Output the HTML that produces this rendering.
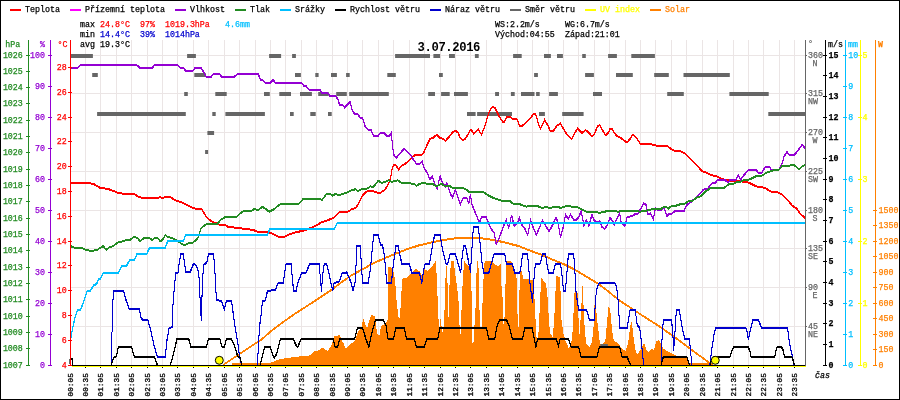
<!DOCTYPE html><html><head><meta charset="utf-8"><title>graf</title><style>
html,body{margin:0;padding:0;background:#fff;}svg{display:block}
text{font-family:"Liberation Mono",monospace;font-size:8.3px;}
.b{font-weight:bold}
</style></head><body>
<svg width="900" height="400" viewBox="0 0 900 400">
<defs><filter id="nf" x="0" y="0" width="900" height="400" filterUnits="userSpaceOnUse"><feOffset dx="0" dy="0"/></filter></defs>
<rect x="0" y="0" width="900" height="400" fill="#fff"/>
<path d="M85.50 40V365M100.50 40V365M116.50 40V365M131.50 40V365M147.50 40V365M162.50 40V365M177.50 40V365M193.50 40V365M208.50 40V365M224.50 40V365M239.50 40V365M255.50 40V365M270.50 40V365M285.50 40V365M301.50 40V365M316.50 40V365M332.50 40V365M347.50 40V365M362.50 40V365M378.50 40V365M393.50 40V365M409.50 40V365M424.50 40V365M440.50 40V365M455.50 40V365M470.50 40V365M486.50 40V365M501.50 40V365M517.50 40V365M532.50 40V365M548.50 40V365M563.50 40V365M578.50 40V365M594.50 40V365M609.50 40V365M625.50 40V365M640.50 40V365M655.50 40V365M671.50 40V365M686.50 40V365M702.50 40V365M717.50 40V365M733.50 40V365M748.50 40V365M763.50 40V365M779.50 40V365M794.50 40V365M70 55.50H805M70 93.50H805M70 132.50H805M70 171.50H805M70 210.50H805M70 248.50H805M70 287.50H805M70 326.50H805" stroke="#ebe5e5" stroke-width="1" fill="none" shape-rendering="crispEdges"/>
<polygon points="232,365 232,363.4 268,363.4 272,362.3 276,360.5 280,359.2 288.25,357.8 299.5,356.5 309.6,355.4 315.25,350.9 319.75,350.2 322.45,347.5 327.6,350.9 331,346.4 334.4,336.25 340,335.1 341.1,339.6 343.4,343 345.6,348.6 349,345.25 354.6,341.2 358,331.75 361.4,327.25 363.2,318.7 367,328.4 369.25,320.5 371.5,314.9 374.9,316 377.1,334 379.4,336.25 381,326.1 385,323.9 387.25,320.5 388,320 388,267 392.6,267.8 395.1,279.5 396.7,303 398.7,318.4 399.8,318.4 400.9,303 402.1,278.7 406.8,277.85 411,273.7 416,268.6 420.2,272 421.85,276.2 423.9,268.6 427.7,271.2 431.9,267 435.6,261.1 436.6,274.5 437.8,303 438.85,326.8 439.95,326.8 440.6,318 442.25,331.8 443.35,331.8 444.9,303 445.6,274.5 446.1,261.1 447.3,274.5 448,303 447.75,316.7 448.85,316.7 448.7,303 450,274.5 451.15,261.1 453.7,261.1 455,272.8 457,286.2 458.7,303 459.85,333.5 460.95,333.5 461.7,303 462.9,277.85 464.2,261.1 467.1,264.5 469.6,267.8 471.2,274.5 471.75,303 472.35,342.7 473.45,342.7 475.8,303 476.8,261.1 478.4,261.1 479.1,303 480.45,326.8 481.55,326.8 482.5,303 483.5,279.5 484.6,261.1 491.3,261.1 495.5,264.5 498,267 500.9,263.6 501.4,284.5 503,303 503.05,324.3 504.15,324.3 505.2,303 505.9,261.1 510.6,261.1 512.25,263.6 514.8,269.5 516.4,274.5 517.3,303 517.75,326.8 518.85,326.8 519,303 520.3,270.3 522,272 523.3,279.5 528.4,278.7 530,280.4 533.4,279.5 534.2,292 535.4,316.7 536.7,340.2 538.1,340.2 539.25,316.7 540.1,303 540.6,289.6 541.3,277.85 543.4,280.4 545.95,283.7 547.1,292.9 548.1,303 548.8,320.1 550.1,333.5 552.6,336.8 554.3,320.1 554.8,303 555.5,291.25 556.5,276.2 559.85,277 560.5,291.25 561,303 561.5,320.1 563.5,333.5 565.2,340.2 568.55,347.7 571.1,345.2 572.7,330.1 573.9,305 574.6,291.25 576.1,292.1 577.8,292.9 577.8,305 578.9,325.1 579.05,333.5 580.15,333.5 580.6,316.7 581.5,303 582.3,286.2 582.8,286.2 583.4,303 584.5,325.1 586.1,343.5 589.5,346.9 592,341.9 593.7,325.1 594.6,303 595.3,292.1 596,303 596.7,316.7 598.35,330.1 600,343.9 602.9,344.4 605.4,340.2 607.1,321.8 608.7,305 610.4,311.7 612.1,330.1 613.75,341 616.3,341.9 618.8,344.4 622.1,348.6 625.5,351.1 628,343.5 630.5,325.1 631.8,320.9 633,333.5 635.5,350.2 637.2,354.4 639.7,351.1 641.4,348.6 643.9,342.7 645.2,345.2 646.4,350.2 648.9,351.9 651.4,348.6 653.9,350.2 656.45,341 659,340.2 661.3,345.2 663.35,348.55 666.7,351.1 671.7,353.6 676.7,355.6 686.8,357.8 689.3,363.3 710.2,363.3 710.2,365 232,365" fill="#ff8000" shape-rendering="crispEdges"/>
<rect x="600.4" y="344" width="7.5" height="4" fill="#666"/>
<polyline points="223.1,364.5 236,355.8 250,346.55 261.25,339.1 272.5,329.45 283.75,321.1 295,313.25 306.25,306.05 317.5,298.6 328.75,291.2 340,282.8 351.25,274.9 362.5,268.8 373.75,262.5 385,257.55 396.25,253.05 407.5,248.55 418.75,244.95 430,242.25 441.25,240 451.25,238.2 462.5,237.3 471.5,237.1 485,238.2 496.25,240 507.5,242.7 518.75,245.6 530,250.1 541.25,254.2 552.5,259.1 563.75,263.6 575,269.25 586.25,276 597.5,282.75 606.5,289.5 618.8,299.5 640,313.5 660,326.3 680,340.5 700,355.5 710.2,363.1 713,364.5" fill="none" stroke="#ff8000" stroke-width="1" shape-rendering="crispEdges"/>
<polyline points="223.1,365.5 236,356.8 250,347.55 261.25,340.1 272.5,330.45 283.75,322.1 295,314.25 306.25,307.05 317.5,299.6 328.75,292.2 340,283.8 351.25,275.9 362.5,269.8 373.75,263.5 385,258.55 396.25,254.05 407.5,249.55 418.75,245.95 430,243.25 441.25,241 451.25,239.2 462.5,238.3 471.5,238.1 485,239.2 496.25,241 507.5,243.7 518.75,246.6 530,251.1 541.25,255.2 552.5,260.1 563.75,264.6 575,270.25 586.25,277 597.5,283.75 606.5,290.5 618.8,300.5 640,314.5 660,327.3 680,341.5 700,356.5 710.2,364.1 713,365.5" fill="none" stroke="#ff8000" stroke-width="1" shape-rendering="crispEdges"/>
<rect x="70.5" y="54" width="22.4" height="4" fill="#666"/>
<rect x="187.1" y="54" width="8.8" height="4" fill="#666"/>
<rect x="269.1" y="54" width="12.0" height="4" fill="#666"/>
<rect x="292.1" y="54" width="3.8" height="4" fill="#666"/>
<rect x="395.1" y="54" width="34.9" height="4" fill="#666"/>
<rect x="433.4" y="54" width="6.7" height="4" fill="#666"/>
<rect x="449.0" y="54" width="5.9" height="4" fill="#666"/>
<rect x="474.9" y="54" width="3.8" height="4" fill="#666"/>
<rect x="513.1" y="54" width="8.6" height="4" fill="#666"/>
<rect x="544.0" y="54" width="6.9" height="4" fill="#666"/>
<rect x="557.0" y="54" width="5.9" height="4" fill="#666"/>
<rect x="582.2" y="54" width="3.6" height="4" fill="#666"/>
<rect x="608.1" y="54" width="8.8" height="4" fill="#666"/>
<rect x="631.3" y="54" width="23.6" height="4" fill="#666"/>
<rect x="92.2" y="73" width="5.6" height="4" fill="#666"/>
<rect x="194.3" y="73" width="11.5" height="4" fill="#666"/>
<rect x="295.0" y="73" width="5.9" height="4" fill="#666"/>
<rect x="315.3" y="73" width="3.3" height="4" fill="#666"/>
<rect x="331.0" y="73" width="5.9" height="4" fill="#666"/>
<rect x="346.1" y="73" width="3.6" height="4" fill="#666"/>
<rect x="387.3" y="73" width="8.5" height="4" fill="#666"/>
<rect x="439.0" y="73" width="3.8" height="4" fill="#666"/>
<rect x="534.1" y="73" width="3.8" height="4" fill="#666"/>
<rect x="585.1" y="73" width="8.8" height="4" fill="#666"/>
<rect x="616.0" y="73" width="16.8" height="4" fill="#666"/>
<rect x="654.2" y="73" width="14.6" height="4" fill="#666"/>
<rect x="683.5" y="73" width="46.3" height="4" fill="#666"/>
<rect x="184.2" y="92" width="3.6" height="4" fill="#666"/>
<rect x="215.3" y="92" width="11.4" height="4" fill="#666"/>
<rect x="264.0" y="92" width="5.8" height="4" fill="#666"/>
<rect x="279.3" y="92" width="11.7" height="4" fill="#666"/>
<rect x="300.0" y="92" width="11.9" height="4" fill="#666"/>
<rect x="318.2" y="92" width="10.6" height="4" fill="#666"/>
<rect x="336.2" y="92" width="10.6" height="4" fill="#666"/>
<rect x="349.2" y="92" width="39.6" height="4" fill="#666"/>
<rect x="428.2" y="92" width="6.8" height="4" fill="#666"/>
<rect x="441.1" y="92" width="8.6" height="4" fill="#666"/>
<rect x="454.0" y="92" width="13.9" height="4" fill="#666"/>
<rect x="495.1" y="92" width="3.9" height="4" fill="#666"/>
<rect x="510.9" y="92" width="3.8" height="4" fill="#666"/>
<rect x="521.0" y="92" width="13.5" height="4" fill="#666"/>
<rect x="536.1" y="92" width="3.6" height="4" fill="#666"/>
<rect x="549.1" y="92" width="8.8" height="4" fill="#666"/>
<rect x="593.0" y="92" width="9.0" height="4" fill="#666"/>
<rect x="667.2" y="92" width="16.6" height="4" fill="#666"/>
<rect x="729.4" y="92" width="39.3" height="4" fill="#666"/>
<rect x="97.1" y="112" width="88.7" height="4" fill="#666"/>
<rect x="212.3" y="112" width="3.4" height="4" fill="#666"/>
<rect x="225.4" y="112" width="39.5" height="4" fill="#666"/>
<rect x="290.0" y="112" width="3.7" height="4" fill="#666"/>
<rect x="310.3" y="112" width="5.4" height="4" fill="#666"/>
<rect x="328.0" y="112" width="3.7" height="4" fill="#666"/>
<rect x="467.0" y="112" width="8.6" height="4" fill="#666"/>
<rect x="477.1" y="112" width="34.9" height="4" fill="#666"/>
<rect x="539.0" y="112" width="5.9" height="4" fill="#666"/>
<rect x="562.2" y="112" width="21.4" height="4" fill="#666"/>
<rect x="768.3" y="112" width="37.7" height="4" fill="#666"/>
<rect x="207.4" y="131" width="6.7" height="4" fill="#666"/>
<rect x="205.1" y="150" width="3.0" height="4" fill="#666"/>
<rect x="69" y="359" width="2" height="5" fill="#666"/>
<polyline points="70.5,182.5 88.1,182.5 93.75,183.6 99.4,187 108.4,188.6 117.4,192 123,193.3 134.25,193.3 138.75,196.5 144.4,197.6 157.9,197.6 160.1,196.5 162.4,197.6 165.3,196.5 170.25,196.5 175.9,200.1 181.5,201.6 187.1,204.6 193.9,207.9 201.75,208.6 206.25,216.4 210.75,220.2 215.25,222.45 219.75,224.25 225.4,224.7 227.6,226.05 233.25,226.95 240,227.6 246.75,228.75 252.4,229.2 256.9,231 261.25,231.45 266.9,231.45 272.5,233.25 279.25,236.6 283.75,236.6 288.25,234.4 295,232.1 304,229.9 310.75,227.6 315.25,225.4 322,221.55 328.75,219.3 333.25,217.5 338.9,211.9 347.9,211.2 351.25,208.95 355.75,207.4 359.1,202.2 362.5,194.9 365.9,191.5 369.25,190.4 373.3,190.6 377.1,192.2 380.5,192.2 385,189.25 388.4,183.6 390.6,176.9 392.2,167.9 394,164.5 395.8,164.5 398.5,169 401.2,165.6 405.25,163.4 410.9,158.2 414.25,155.05 417.6,154.4 421,155.05 423.7,152.1 426.6,145.4 430,138.6 433.4,137.05 436.75,134.1 440.1,137.5 443.4,138.6 445.6,140.2 449,136.4 452.4,131.9 455.3,130.3 458,131.9 460.25,137.5 462.5,139.75 465.2,138.6 468.1,133.5 470.8,129 473.75,133 478.25,129 481.6,134.1 485,125.1 487.7,116 490.6,108.1 492.9,106.55 495.1,107.7 498.1,113.75 500.75,118.7 503,121.6 504.6,121 506.8,116 509.75,116 512,118.25 517,118.7 519.9,126.1 523.7,124.5 528.9,119.4 533.4,113.75 535.6,113.3 539,125 540.6,128 544.6,119.4 548,125 550.25,130.75 553.2,130.75 557,125.1 560.4,122.9 563.3,128 567.1,134.1 571.6,138.6 575,131.9 577.7,128 581.75,132.5 585.8,129.6 588.5,131.9 591.9,135.7 594.1,134.1 597.5,125.8 599.75,124.45 602.5,129.6 605.4,134.8 608.3,132.5 609.9,128.5 612.1,128.5 615.5,134.1 618.2,136.4 620,137.05 623.4,139.3 626.75,142 630.1,138.6 632.4,134.1 635.75,136.4 640.25,143.1 648.1,143.1 652.6,144.25 658.25,145.4 667.25,145.4 672.9,149.9 680.75,151 685.25,153.25 692,160 697.6,165.6 702.1,170.8 705.5,171.7 711.1,174.6 716.75,175.75 721.25,178.45 726.9,179.8 732.5,180.25 738.1,180.7 746,181.4 750.5,182.95 756.1,185.9 762.9,187 766.25,188.1 770.75,191.05 776.4,191.5 780.9,193.3 785.4,197.1 788.75,200.95 792.1,205 796.6,208.05 800,213 805,217.5" fill="none" stroke="#ff0000" stroke-width="1" shape-rendering="crispEdges"/>
<polyline points="70.5,183.5 88.1,183.5 93.75,184.6 99.4,188 108.4,189.6 117.4,193 123,194.3 134.25,194.3 138.75,197.5 144.4,198.6 157.9,198.6 160.1,197.5 162.4,198.6 165.3,197.5 170.25,197.5 175.9,201.1 181.5,202.6 187.1,205.6 193.9,208.9 201.75,209.6 206.25,217.4 210.75,221.2 215.25,223.45 219.75,225.25 225.4,225.7 227.6,227.05 233.25,227.95 240,228.6 246.75,229.75 252.4,230.2 256.9,232 261.25,232.45 266.9,232.45 272.5,234.25 279.25,237.6 283.75,237.6 288.25,235.4 295,233.1 304,230.9 310.75,228.6 315.25,226.4 322,222.55 328.75,220.3 333.25,218.5 338.9,212.9 347.9,212.2 351.25,209.95 355.75,208.4 359.1,203.2 362.5,195.9 365.9,192.5 369.25,191.4 373.3,191.6 377.1,193.2 380.5,193.2 385,190.25 388.4,184.6 390.6,177.9 392.2,168.9 394,165.5 395.8,165.5 398.5,170 401.2,166.6 405.25,164.4 410.9,159.2 414.25,156.05 417.6,155.4 421,156.05 423.7,153.1 426.6,146.4 430,139.6 433.4,138.05 436.75,135.1 440.1,138.5 443.4,139.6 445.6,141.2 449,137.4 452.4,132.9 455.3,131.3 458,132.9 460.25,138.5 462.5,140.75 465.2,139.6 468.1,134.5 470.8,130 473.75,134 478.25,130 481.6,135.1 485,126.1 487.7,117 490.6,109.1 492.9,107.55 495.1,108.7 498.1,114.75 500.75,119.7 503,122.6 504.6,122 506.8,117 509.75,117 512,119.25 517,119.7 519.9,127.1 523.7,125.5 528.9,120.4 533.4,114.75 535.6,114.3 539,126 540.6,129 544.6,120.4 548,126 550.25,131.75 553.2,131.75 557,126.1 560.4,123.9 563.3,129 567.1,135.1 571.6,139.6 575,132.9 577.7,129 581.75,133.5 585.8,130.6 588.5,132.9 591.9,136.7 594.1,135.1 597.5,126.8 599.75,125.45 602.5,130.6 605.4,135.8 608.3,133.5 609.9,129.5 612.1,129.5 615.5,135.1 618.2,137.4 620,138.05 623.4,140.3 626.75,143 630.1,139.6 632.4,135.1 635.75,137.4 640.25,144.1 648.1,144.1 652.6,145.25 658.25,146.4 667.25,146.4 672.9,150.9 680.75,152 685.25,154.25 692,161 697.6,166.6 702.1,171.8 705.5,172.7 711.1,175.6 716.75,176.75 721.25,179.45 726.9,180.8 732.5,181.25 738.1,181.7 746,182.4 750.5,183.95 756.1,186.9 762.9,188 766.25,189.1 770.75,192.05 776.4,192.5 780.9,194.3 785.4,198.1 788.75,201.95 792.1,206 796.6,209.05 800,214 805,218.5" fill="none" stroke="#ff0000" stroke-width="1" shape-rendering="crispEdges"/>
<polyline points="70.5,67.4 77.6,67.4 80.7,64.25 136.5,64.25 139.9,67.4 152.3,67.4 154.5,64.25 177,64.25 180.4,67.4 183.3,67.4 185.6,70.3 192.8,70.3 195,67.4 201.3,67.4 206.3,76.2 211.2,76.2 213.5,73.25 219.3,73.25 221.6,76.2 234.4,76.2 237.8,73.25 257.9,73.25 260.8,79.3 262.4,79.3 265.3,82.25 270.25,82.25 273.2,79.3 275.2,82.25 301.75,82.25 304,85.85 306.25,85.85 309,89 319.75,89 322,92.6 327.6,92.6 329.9,95.3 335.5,95.3 337.75,98.45 339.55,104.3 342.7,104.3 344.5,107 350.1,101.4 352.4,110.4 354.6,113.3 357.5,113.3 360.25,117.1 362.5,117.1 365.2,126.1 368.1,129.05 370.8,129.05 373.75,135.25 378.25,135.25 380.5,132.3 383.9,132.3 386.8,135.25 389.5,135.25 391.3,132.3 392.9,148.75 394,154.4 396.25,157.3 404.1,148.3 407.5,151.7 410.9,155.05 412.5,157.75 416.5,163.4 419.9,163.4 422.1,160.7 423.7,166.75 427.75,173.5 430,179.1 432.25,175.75 435,183.6 437.2,188.1 440.1,175.75 442.4,182.5 445.3,185.9 446.9,182.5 450.1,192.6 452.4,197.1 455.3,189.25 458,197.1 460.25,203.9 463.6,197.1 466.6,197.1 468.8,202.75 470.4,193.75 472,203.9 473.75,208.5 477.1,216.4 479.4,222 481.6,216.4 486.1,216.4 488.4,222 491.3,228.75 494,232.1 496.25,243.8 499,237.75 504.1,224.25 506.4,219.3 508.6,227.6 511.6,214.8 514.25,225.4 517.6,222 519.2,217.05 521.5,223.8 525.1,228.75 527.75,234.4 530.5,219.75 533.4,227.6 536.3,234.4 539,228.3 542.4,219.75 545.3,224.7 549.1,231 552.5,224.7 555.9,217.05 558.1,222 560.4,236.6 563.3,226.5 565.6,214.1 568.25,218.6 570.5,214.1 573.9,219.75 576.1,219.3 578.4,217.05 581.3,210.75 584,225.4 586.25,219.75 589,225.4 591.9,214.1 594.1,219.75 597.5,222 599.75,220.2 602,226.5 604.7,228.3 607.6,224.25 609.9,217.05 612.8,220.9 614.4,224.25 616.6,218.6 619.6,212.55 621.1,222 624.95,225.4 627.2,216.4 632.4,215.7 635.75,213 638,213 640.7,208.5 643.6,202.9 645.9,204 648.1,214.1 650.4,212.55 653.3,218.6 655.55,207.4 658.25,209.6 661.6,209.6 663.9,206.25 666.8,215.7 669.05,213.45 672.2,213 675.1,210.3 684.1,210.3 686.4,205 692,200.5 697.6,196 703.25,189.25 707.75,188.1 712.25,182.5 715.6,182.05 717.9,179.1 724.6,179.1 728,182.05 730.25,179.1 735.9,179.1 738.6,174.6 740.4,179.1 744.9,173.5 748.25,169.45 756.1,169.45 758.4,172.4 761.75,172.4 765.1,166.75 769.6,166.3 771.2,169.45 778.6,169.45 782,163.4 784.25,155.5 787,151.45 789.2,154.4 794.4,154.4 798.9,148.75 802.25,144.25 805,147.6" fill="none" stroke="#9400d3" stroke-width="1" shape-rendering="crispEdges"/>
<polyline points="70.5,68.4 77.6,68.4 80.7,65.25 136.5,65.25 139.9,68.4 152.3,68.4 154.5,65.25 177,65.25 180.4,68.4 183.3,68.4 185.6,71.3 192.8,71.3 195,68.4 201.3,68.4 206.3,77.2 211.2,77.2 213.5,74.25 219.3,74.25 221.6,77.2 234.4,77.2 237.8,74.25 257.9,74.25 260.8,80.3 262.4,80.3 265.3,83.25 270.25,83.25 273.2,80.3 275.2,83.25 301.75,83.25 304,86.85 306.25,86.85 309,90 319.75,90 322,93.6 327.6,93.6 329.9,96.3 335.5,96.3 337.75,99.45 339.55,105.3 342.7,105.3 344.5,108 350.1,102.4 352.4,111.4 354.6,114.3 357.5,114.3 360.25,118.1 362.5,118.1 365.2,127.1 368.1,130.05 370.8,130.05 373.75,136.25 378.25,136.25 380.5,133.3 383.9,133.3 386.8,136.25 389.5,136.25 391.3,133.3 392.9,149.75 394,155.4 396.25,158.3 404.1,149.3 407.5,152.7 410.9,156.05 412.5,158.75 416.5,164.4 419.9,164.4 422.1,161.7 423.7,167.75 427.75,174.5 430,180.1 432.25,176.75 435,184.6 437.2,189.1 440.1,176.75 442.4,183.5 445.3,186.9 446.9,183.5 450.1,193.6 452.4,198.1 455.3,190.25 458,198.1 460.25,204.9 463.6,198.1 466.6,198.1 468.8,203.75 470.4,194.75 472,204.9 473.75,209.5 477.1,217.4 479.4,223 481.6,217.4 486.1,217.4 488.4,223 491.3,229.75 494,233.1 496.25,244.8 499,238.75 504.1,225.25 506.4,220.3 508.6,228.6 511.6,215.8 514.25,226.4 517.6,223 519.2,218.05 521.5,224.8 525.1,229.75 527.75,235.4 530.5,220.75 533.4,228.6 536.3,235.4 539,229.3 542.4,220.75 545.3,225.7 549.1,232 552.5,225.7 555.9,218.05 558.1,223 560.4,237.6 563.3,227.5 565.6,215.1 568.25,219.6 570.5,215.1 573.9,220.75 576.1,220.3 578.4,218.05 581.3,211.75 584,226.4 586.25,220.75 589,226.4 591.9,215.1 594.1,220.75 597.5,223 599.75,221.2 602,227.5 604.7,229.3 607.6,225.25 609.9,218.05 612.8,221.9 614.4,225.25 616.6,219.6 619.6,213.55 621.1,223 624.95,226.4 627.2,217.4 632.4,216.7 635.75,214 638,214 640.7,209.5 643.6,203.9 645.9,205 648.1,215.1 650.4,213.55 653.3,219.6 655.55,208.4 658.25,210.6 661.6,210.6 663.9,207.25 666.8,216.7 669.05,214.45 672.2,214 675.1,211.3 684.1,211.3 686.4,206 692,201.5 697.6,197 703.25,190.25 707.75,189.1 712.25,183.5 715.6,183.05 717.9,180.1 724.6,180.1 728,183.05 730.25,180.1 735.9,180.1 738.6,175.6 740.4,180.1 744.9,174.5 748.25,170.45 756.1,170.45 758.4,173.4 761.75,173.4 765.1,167.75 769.6,167.3 771.2,170.45 778.6,170.45 782,164.4 784.25,156.5 787,152.45 789.2,155.4 794.4,155.4 798.9,149.75 802.25,145.25 805,148.6" fill="none" stroke="#9400d3" stroke-width="1" shape-rendering="crispEdges"/>
<polyline points="70.5,245.6 74.6,247.2 81.4,247.2 85.9,249.45 91.5,250.35 97.1,249.45 100.5,247.2 103.2,245.6 106.1,249.45 109.5,246.75 112.9,245.6 117.4,242.25 121.9,241.1 125.25,240 129.75,239.55 134.25,236.2 137.6,237.75 139.9,240.7 144.4,237.3 148.9,237.3 152.25,239.55 154.5,237.75 157.9,237.75 160.1,240.7 162.4,239.55 165.3,234.4 168,236.6 172.5,237.75 174.75,238.9 178.1,240.7 181.5,243.4 184.9,244.5 188.25,242.7 192.75,242.25 196.1,239.55 198.4,236.6 200.6,228.75 202.9,226.05 207.4,223.1 217.5,223.1 220.9,219.3 225.4,216.4 236.6,216.4 240,213 243.4,210.75 251.25,210.3 254.5,208.5 257.9,209.6 262.4,206.25 265.75,208.5 269.1,211.2 273.6,208.95 280.4,203.55 298.4,203.55 301.75,200.6 302.9,198.25 319.75,198.25 322,199.8 326.5,193.3 329.9,193.3 332.8,195.3 335.5,193.3 338.9,194.9 342.25,193.3 345.6,192.6 351.25,189.9 355.3,188.8 358,190.4 362.5,188.1 367,188.1 370.4,185.9 373.3,186.55 378.25,180.25 381.6,182.5 385,181.4 388.4,179.8 391.75,181.4 397.4,179.8 403,183.2 405.25,182.05 414.25,183.6 416.5,185.2 419.9,183.2 424.4,182.5 427.75,183.6 432.25,183.2 436.75,185.9 441.25,183.2 444.5,185.2 449,185.2 453.5,187.7 458,187 462.5,187.5 467,189.25 469.25,191.95 483.9,191.95 488.4,194.9 494,197.8 500.75,200.05 504.1,200.95 506.4,200.05 509.75,200.5 513.1,203.2 518.75,203.4 523.25,205 526.6,206.1 530,205 535.6,205.45 539,206.1 542.4,207.7 545.75,206.1 550.25,207.7 553.6,206.1 558.1,206.1 560.4,207.7 564.9,206.1 568.25,205 571.6,206.1 576.1,206.1 579.5,207.7 581.75,208.95 586.25,211.2 595.25,211.2 599.75,212.55 603.1,211.2 614.4,210.3 617.75,211.2 622.25,210.3 635.75,210.3 640.25,211.2 649.25,209.6 654.9,208.05 661.6,208.05 663.9,206.25 666.1,206.25 668.4,208.05 671.75,205.1 676.25,205.1 680.75,203.55 684.1,203.55 688.6,200.5 692,200.95 696.5,197.1 701,195.55 705.5,191.05 710,188.1 713.4,187 724.6,187 729.1,183.6 732.5,183.6 735.9,182.05 740.4,181.4 743.75,179.8 747.1,179.8 750.5,178.45 756.1,175.75 759.5,175.3 761.75,175.3 766.25,172.4 770.75,170.8 774.1,169.45 778.6,169.45 782,165.6 787.6,165.6 792.1,164.5 795.5,165.2 798.9,169 802.25,165.6 805,164.5" fill="none" stroke="#228b22" stroke-width="1" shape-rendering="crispEdges"/>
<polyline points="70.5,246.6 74.6,248.2 81.4,248.2 85.9,250.45 91.5,251.35 97.1,250.45 100.5,248.2 103.2,246.6 106.1,250.45 109.5,247.75 112.9,246.6 117.4,243.25 121.9,242.1 125.25,241 129.75,240.55 134.25,237.2 137.6,238.75 139.9,241.7 144.4,238.3 148.9,238.3 152.25,240.55 154.5,238.75 157.9,238.75 160.1,241.7 162.4,240.55 165.3,235.4 168,237.6 172.5,238.75 174.75,239.9 178.1,241.7 181.5,244.4 184.9,245.5 188.25,243.7 192.75,243.25 196.1,240.55 198.4,237.6 200.6,229.75 202.9,227.05 207.4,224.1 217.5,224.1 220.9,220.3 225.4,217.4 236.6,217.4 240,214 243.4,211.75 251.25,211.3 254.5,209.5 257.9,210.6 262.4,207.25 265.75,209.5 269.1,212.2 273.6,209.95 280.4,204.55 298.4,204.55 301.75,201.6 302.9,199.25 319.75,199.25 322,200.8 326.5,194.3 329.9,194.3 332.8,196.3 335.5,194.3 338.9,195.9 342.25,194.3 345.6,193.6 351.25,190.9 355.3,189.8 358,191.4 362.5,189.1 367,189.1 370.4,186.9 373.3,187.55 378.25,181.25 381.6,183.5 385,182.4 388.4,180.8 391.75,182.4 397.4,180.8 403,184.2 405.25,183.05 414.25,184.6 416.5,186.2 419.9,184.2 424.4,183.5 427.75,184.6 432.25,184.2 436.75,186.9 441.25,184.2 444.5,186.2 449,186.2 453.5,188.7 458,188 462.5,188.5 467,190.25 469.25,192.95 483.9,192.95 488.4,195.9 494,198.8 500.75,201.05 504.1,201.95 506.4,201.05 509.75,201.5 513.1,204.2 518.75,204.4 523.25,206 526.6,207.1 530,206 535.6,206.45 539,207.1 542.4,208.7 545.75,207.1 550.25,208.7 553.6,207.1 558.1,207.1 560.4,208.7 564.9,207.1 568.25,206 571.6,207.1 576.1,207.1 579.5,208.7 581.75,209.95 586.25,212.2 595.25,212.2 599.75,213.55 603.1,212.2 614.4,211.3 617.75,212.2 622.25,211.3 635.75,211.3 640.25,212.2 649.25,210.6 654.9,209.05 661.6,209.05 663.9,207.25 666.1,207.25 668.4,209.05 671.75,206.1 676.25,206.1 680.75,204.55 684.1,204.55 688.6,201.5 692,201.95 696.5,198.1 701,196.55 705.5,192.05 710,189.1 713.4,188 724.6,188 729.1,184.6 732.5,184.6 735.9,183.05 740.4,182.4 743.75,180.8 747.1,180.8 750.5,179.45 756.1,176.75 759.5,176.3 761.75,176.3 766.25,173.4 770.75,171.8 774.1,170.45 778.6,170.45 782,166.6 787.6,166.6 792.1,165.5 795.5,166.2 798.9,170 802.25,166.6 805,165.5" fill="none" stroke="#228b22" stroke-width="1" shape-rendering="crispEdges"/>
<polyline points="70.5,339.9 71.5,333.8 72.6,327.5 74,321.5 75.3,315.5 77.6,309.5 80.7,309.1 83.3,302 85.2,296.5 87,290.7 90.4,290.1 93.75,284.5 96.5,283.7 98.7,278.5 100.5,278 103.2,272.3 118.1,272.3 121.9,265.5 126.4,265.5 129.75,259.4 134.25,259.4 137,253.5 146.6,253.5 149.6,247.3 165.3,247.3 167.6,240.8 183.3,240.8 185.6,234.5 267.5,234.5 269.8,228.4 334.4,228.4 337.3,222.3 806,222.3" fill="none" stroke="#00bfff" stroke-width="1" shape-rendering="crispEdges"/>
<polyline points="70.5,340.9 71.5,334.8 72.6,328.5 74,322.5 75.3,316.5 77.6,310.5 80.7,310.1 83.3,303 85.2,297.5 87,291.7 90.4,291.1 93.75,285.5 96.5,284.7 98.7,279.5 100.5,279 103.2,273.3 118.1,273.3 121.9,266.5 126.4,266.5 129.75,260.4 134.25,260.4 137,254.5 146.6,254.5 149.6,248.3 165.3,248.3 167.6,241.8 183.3,241.8 185.6,235.5 267.5,235.5 269.8,229.4 334.4,229.4 337.3,223.3 806,223.3" fill="none" stroke="#00bfff" stroke-width="1" shape-rendering="crispEdges"/>
<polyline points="111.3,364.5 111.75,347 112.4,308.75 113.55,290.3 123.45,290.3 125.7,298.6 129.3,308.75 139.2,308.75 141.45,318.9 147.75,319.55 150,326.75 154.05,344.75 157.2,356 165.3,356 166.9,340.25 169.1,327.9 172.05,326.75 173.2,299.75 174.75,282.75 175.9,272.6 178.1,271.95 179.25,262.5 180.8,253.5 183.3,253.5 184.4,262.5 186,271.95 190.1,271.95 192.75,264.75 194.6,263.2 196.8,265.9 198.4,271.5 199.5,280.5 199.95,295.25 201.3,320 202.2,289.5 202.7,276 204,263.6 206.7,262.5 208.5,253.5 213.5,253.5 214.4,262.5 215.25,277.1 216.4,299.75 221.55,300.2 224.25,308.75 226.5,300.2 231.45,300.2 233.25,313.25 235.5,329 238.2,344.75 239.55,356 241.8,364.5" fill="none" stroke="#0000cd" stroke-width="1" shape-rendering="crispEdges"/>
<polyline points="111.3,365.5 111.75,348 112.4,309.75 113.55,291.3 123.45,291.3 125.7,299.6 129.3,309.75 139.2,309.75 141.45,319.9 147.75,320.55 150,327.75 154.05,345.75 157.2,357 165.3,357 166.9,341.25 169.1,328.9 172.05,327.75 173.2,300.75 174.75,283.75 175.9,273.6 178.1,272.95 179.25,263.5 180.8,254.5 183.3,254.5 184.4,263.5 186,272.95 190.1,272.95 192.75,265.75 194.6,264.2 196.8,266.9 198.4,272.5 199.5,281.5 199.95,296.25 201.3,321 202.2,290.5 202.7,277 204,264.6 206.7,263.5 208.5,254.5 213.5,254.5 214.4,263.5 215.25,278.1 216.4,300.75 221.55,301.2 224.25,309.75 226.5,301.2 231.45,301.2 233.25,314.25 235.5,330 238.2,345.75 239.55,357 241.8,365.5" fill="none" stroke="#0000cd" stroke-width="1" shape-rendering="crispEdges"/>
<polyline points="257.2,364.5 258.55,344.75 259.45,326.75 261.25,313.25 262.4,300.9 265.3,299.75 267.55,290.3 275.2,289.6 278.1,282.75 283.3,282.3 286,263.6 291.2,263.6 292.75,282.75 293.9,290.3 296.1,290.3 298.4,280.5 301.75,272.6 306.25,271.95 309.6,263.6 319.3,263.6 320.2,276 321.55,290.75 322.4,276 324.25,263.6 326.5,263.6 328.75,271.5 330.5,280.5 332.8,290.3 333.7,284 334.4,282.3 338.9,281.6 342.25,272.6 346.75,271.95 349,277.1 351.25,282.3 353.05,290.3 355.3,280.5 356.9,245.6 360.25,245.6 361.8,271.5 362.9,282.3 368.1,282.3 370.4,269.25 372.6,244.5 373.75,234.4 378.25,234.4 380.5,244.5 382.5,244.7 384.2,253.9 385.4,265.6 386.7,282.4 391.4,282.4 392.6,270.7 394.2,257.3 395.9,245.5 398.1,245.5 399.75,253.9 401.8,263.1 409.3,263.1 411.8,272.3 419.3,272.3 421.85,282.4 423.9,268.1 425.2,263.1 429.4,263.1 431.1,253.9 433.6,238.8 435,234.4 440.1,234.4 441.9,245.5 444.5,257.3 446.1,263.6 447.8,263.1 450,253.9 455.3,253.1 457.35,260.6 460.7,272.3 462.4,253.9 463.7,245.2 465.4,245.2 467.1,253.9 469.6,266.5 470.4,271.5 471.75,252.2 472.6,235.5 473.75,226.05 478.25,226.05 480.45,245.5 482.1,263.1 483.8,272.3 488.8,272.3 491.3,263.1 494.2,253.1 504.7,253.1 506.4,263.1 512.25,263.1 514.8,272.3 519.8,272.3 521.5,263.1 522.6,253.1 527.3,253.1 528.4,262.3 529.2,274 530.4,287.4 531.4,293.3 532.55,301.6 533.4,285.7 534.7,269 535.9,263.1 540.1,263.1 541.8,257.3 542.6,253.1 545.4,253.1 546.45,260.6 547.6,267.3 548.8,272.3 553.15,272.3 554.8,265.6 556,263.1 560.2,263.1 561.5,269 562.7,282.4 563.9,290.75 565.2,290.75 566.5,279 567.7,260.6 568.9,253.1 573.2,253.1 574.4,260.6 575.25,277.35 576.1,292.4 578.6,309.2 586.6,309.2 589.5,319.25 594.5,319.25 595.3,302.5 596.2,292.4 597.35,285.7 599.5,282.4 614.6,282.4 616.3,285.7 617.4,292.4 618.4,302.5 619.6,327.1 627.1,327.1 630.2,309.2 635.2,309.2 637.2,324.6 639.7,327.1 641.4,341.4 643.6,364.5" fill="none" stroke="#0000cd" stroke-width="1" shape-rendering="crispEdges"/>
<polyline points="257.2,365.5 258.55,345.75 259.45,327.75 261.25,314.25 262.4,301.9 265.3,300.75 267.55,291.3 275.2,290.6 278.1,283.75 283.3,283.3 286,264.6 291.2,264.6 292.75,283.75 293.9,291.3 296.1,291.3 298.4,281.5 301.75,273.6 306.25,272.95 309.6,264.6 319.3,264.6 320.2,277 321.55,291.75 322.4,277 324.25,264.6 326.5,264.6 328.75,272.5 330.5,281.5 332.8,291.3 333.7,285 334.4,283.3 338.9,282.6 342.25,273.6 346.75,272.95 349,278.1 351.25,283.3 353.05,291.3 355.3,281.5 356.9,246.6 360.25,246.6 361.8,272.5 362.9,283.3 368.1,283.3 370.4,270.25 372.6,245.5 373.75,235.4 378.25,235.4 380.5,245.5 382.5,245.7 384.2,254.9 385.4,266.6 386.7,283.4 391.4,283.4 392.6,271.7 394.2,258.3 395.9,246.5 398.1,246.5 399.75,254.9 401.8,264.1 409.3,264.1 411.8,273.3 419.3,273.3 421.85,283.4 423.9,269.1 425.2,264.1 429.4,264.1 431.1,254.9 433.6,239.8 435,235.4 440.1,235.4 441.9,246.5 444.5,258.3 446.1,264.6 447.8,264.1 450,254.9 455.3,254.1 457.35,261.6 460.7,273.3 462.4,254.9 463.7,246.2 465.4,246.2 467.1,254.9 469.6,267.5 470.4,272.5 471.75,253.2 472.6,236.5 473.75,227.05 478.25,227.05 480.45,246.5 482.1,264.1 483.8,273.3 488.8,273.3 491.3,264.1 494.2,254.1 504.7,254.1 506.4,264.1 512.25,264.1 514.8,273.3 519.8,273.3 521.5,264.1 522.6,254.1 527.3,254.1 528.4,263.3 529.2,275 530.4,288.4 531.4,294.3 532.55,302.6 533.4,286.7 534.7,270 535.9,264.1 540.1,264.1 541.8,258.3 542.6,254.1 545.4,254.1 546.45,261.6 547.6,268.3 548.8,273.3 553.15,273.3 554.8,266.6 556,264.1 560.2,264.1 561.5,270 562.7,283.4 563.9,291.75 565.2,291.75 566.5,280 567.7,261.6 568.9,254.1 573.2,254.1 574.4,261.6 575.25,278.35 576.1,293.4 578.6,310.2 586.6,310.2 589.5,320.25 594.5,320.25 595.3,303.5 596.2,293.4 597.35,286.7 599.5,283.4 614.6,283.4 616.3,286.7 617.4,293.4 618.4,303.5 619.6,328.1 627.1,328.1 630.2,310.2 635.2,310.2 637.2,325.6 639.7,328.1 641.4,342.4 643.6,365.5" fill="none" stroke="#0000cd" stroke-width="1" shape-rendering="crispEdges"/>
<polyline points="661.3,364.5 662,339.7 663.35,319.25 671.4,319.25 672.6,329.6 673.7,349.7 675.1,329.6 676.4,309.2 679.25,309.2 680.9,319.25 682.6,329.6 684.8,338.3 689.3,338.3 690.5,349.7 691.8,364.5" fill="none" stroke="#0000cd" stroke-width="1" shape-rendering="crispEdges"/>
<polyline points="661.3,365.5 662,340.7 663.35,320.25 671.4,320.25 672.6,330.6 673.7,350.7 675.1,330.6 676.4,310.2 679.25,310.2 680.9,320.25 682.6,330.6 684.8,339.3 689.3,339.3 690.5,350.7 691.8,365.5" fill="none" stroke="#0000cd" stroke-width="1" shape-rendering="crispEdges"/>
<polyline points="709.9,364.5 711.9,348.05 713.9,334.7 715.6,327.1 745.7,327.1 747.1,331.3 748.4,338.8 750.4,329.6 752.9,319.25 758.4,319.25 760.45,324.6 761.8,327.1 787.6,327.1 788.9,338 790.6,348.05 792.6,356.4 793.9,364.5" fill="none" stroke="#0000cd" stroke-width="1" shape-rendering="crispEdges"/>
<polyline points="709.9,365.5 711.9,349.05 713.9,335.7 715.6,328.1 745.7,328.1 747.1,332.3 748.4,339.8 750.4,330.6 752.9,320.25 758.4,320.25 760.45,325.6 761.8,328.1 787.6,328.1 788.9,339 790.6,349.05 792.6,357.4 793.9,365.5" fill="none" stroke="#0000cd" stroke-width="1" shape-rendering="crispEdges"/>
<polyline points="70.5,355.5 70.5,358.5 72,358.5 72,364.5" fill="none" stroke="#000000" stroke-width="1" shape-rendering="crispEdges"/>
<polyline points="70.5,356.5 70.5,359.5 72,359.5 72,365.5" fill="none" stroke="#000000" stroke-width="1" shape-rendering="crispEdges"/>
<polyline points="111.3,364.5 113.55,357.1 116.25,356 118.5,346.3 131.55,346.3 134.25,356 154.05,356 156.3,361.6 157.4,364.5" fill="none" stroke="#000000" stroke-width="1" shape-rendering="crispEdges"/>
<polyline points="111.3,365.5 113.55,358.1 116.25,357 118.5,347.3 131.55,347.3 134.25,357 154.05,357 156.3,362.6 157.4,365.5" fill="none" stroke="#000000" stroke-width="1" shape-rendering="crispEdges"/>
<polyline points="170.25,364.5 172.5,357.1 177,338.45 188.7,338.45 190.95,346.3 206.25,346.3 208.5,338.45 219.75,338.45 222,346.3 224.25,346.3 226.5,338.45 231.45,338.45 234.4,344.75 237.75,356 240,357.1 241.8,364.5" fill="none" stroke="#000000" stroke-width="1" shape-rendering="crispEdges"/>
<polyline points="170.25,365.5 172.5,358.1 177,339.45 188.7,339.45 190.95,347.3 206.25,347.3 208.5,339.45 219.75,339.45 222,347.3 224.25,347.3 226.5,339.45 231.45,339.45 234.4,345.75 237.75,357 240,358.1 241.8,365.5" fill="none" stroke="#000000" stroke-width="1" shape-rendering="crispEdges"/>
<polyline points="260.1,364.5 262.4,356 264.6,346.55 270.25,346.55 272.5,353.75 274.3,357.1 276.55,353.75 280.4,338.45 293.2,338.45 296.1,344.75 297.7,346.55 301.3,338.45 333.25,338.45 335.05,346.55 337.75,346.55 339.55,338.45 354.6,338.45 357.55,327.2 362.5,327.2 365.9,338.45 368.8,346.55 371.5,333.5 375.55,319.55 383.35,319.25 385.9,324.6 388,338.3 393.4,338.3 395.9,327.1 404.3,327.1 406.45,338.3 414.3,338.3 416.5,346.4 424.4,346.4 426.9,338.3 437.75,338.3 439.9,327.1 486.3,327.1 488.8,338.3 494.7,338.3 497.2,324.6 499.7,319.25 506.4,319.25 508.9,324.6 512.25,338.3 522.5,338.3 524.7,327.1 532.05,327.1 534.2,338.3 535.9,346.4 537.6,338.3 556,338.3 558.5,345.5 560.2,338.3 568.55,338.3 571.1,346 578.6,346.4 581.1,356.1 597,356.1 599.5,346.4 619.6,346.4 622.1,356.1 627.1,356.4 630.5,364.5" fill="none" stroke="#000000" stroke-width="1" shape-rendering="crispEdges"/>
<polyline points="260.1,365.5 262.4,357 264.6,347.55 270.25,347.55 272.5,354.75 274.3,358.1 276.55,354.75 280.4,339.45 293.2,339.45 296.1,345.75 297.7,347.55 301.3,339.45 333.25,339.45 335.05,347.55 337.75,347.55 339.55,339.45 354.6,339.45 357.55,328.2 362.5,328.2 365.9,339.45 368.8,347.55 371.5,334.5 375.55,320.55 383.35,320.25 385.9,325.6 388,339.3 393.4,339.3 395.9,328.1 404.3,328.1 406.45,339.3 414.3,339.3 416.5,347.4 424.4,347.4 426.9,339.3 437.75,339.3 439.9,328.1 486.3,328.1 488.8,339.3 494.7,339.3 497.2,325.6 499.7,320.25 506.4,320.25 508.9,325.6 512.25,339.3 522.5,339.3 524.7,328.1 532.05,328.1 534.2,339.3 535.9,347.4 537.6,339.3 556,339.3 558.5,346.5 560.2,339.3 568.55,339.3 571.1,347 578.6,347.4 581.1,357.1 597,357.1 599.5,347.4 619.6,347.4 622.1,357.1 627.1,357.4 630.5,365.5" fill="none" stroke="#000000" stroke-width="1" shape-rendering="crispEdges"/>
<polyline points="661.3,364.5 662.5,358.1 663.7,356.4 686.45,356.4 687.6,358.1 689.3,364.5" fill="none" stroke="#000000" stroke-width="1" shape-rendering="crispEdges"/>
<polyline points="661.3,365.5 662.5,359.1 663.7,357.4 686.45,357.4 687.6,359.1 689.3,365.5" fill="none" stroke="#000000" stroke-width="1" shape-rendering="crispEdges"/>
<polyline points="709.9,364.5 712.2,358.1 714.4,356.4 730,356.4 732,349.7 733.7,346.4 747.9,346.4 749.6,349.7 751.2,356.4 774.7,356.4 776.4,348.05 777.2,346.4 781.4,346.4 783.05,349.7 784.7,356.4 791.9,356.4 793.1,359.8 794.3,364.5" fill="none" stroke="#000000" stroke-width="1" shape-rendering="crispEdges"/>
<polyline points="709.9,365.5 712.2,359.1 714.4,357.4 730,357.4 732,350.7 733.7,347.4 747.9,347.4 749.6,350.7 751.2,357.4 774.7,357.4 776.4,349.05 777.2,347.4 781.4,347.4 783.05,350.7 784.7,357.4 791.9,357.4 793.1,360.8 794.3,365.5" fill="none" stroke="#000000" stroke-width="1" shape-rendering="crispEdges"/>
<rect x="70" y="365" width="736" height="1" fill="#000"/>
<rect x="72" y="366" width="734" height="1" fill="#ffff00"/>
<g filter="url(#nf)">
<circle cx="219.3" cy="360.3" r="4" fill="#ffff00" stroke="#000" stroke-width="1"/>
<circle cx="715.25" cy="360.3" r="4" fill="#ffff00" stroke="#000" stroke-width="1"/>
<text stroke="#000" stroke-width="0.3" transform="translate(73.4,396.5) rotate(-90)" style="font-size:7.8px">00:05</text><rect x="85" y="367" width="1" height="1" fill="#000"/><text stroke="#000" stroke-width="0.3" transform="translate(88.4,396.5) rotate(-90)" style="font-size:7.8px">00:35</text><rect x="100" y="367" width="1" height="1" fill="#000"/><text stroke="#000" stroke-width="0.3" transform="translate(103.4,396.5) rotate(-90)" style="font-size:7.8px">01:05</text><rect x="116" y="367" width="1" height="1" fill="#000"/><text stroke="#000" stroke-width="0.3" transform="translate(119.4,396.5) rotate(-90)" style="font-size:7.8px">01:35</text><rect x="131" y="367" width="1" height="1" fill="#000"/><text stroke="#000" stroke-width="0.3" transform="translate(134.4,396.5) rotate(-90)" style="font-size:7.8px">02:05</text><rect x="147" y="367" width="1" height="1" fill="#000"/><text stroke="#000" stroke-width="0.3" transform="translate(150.4,396.5) rotate(-90)" style="font-size:7.8px">02:35</text><rect x="162" y="367" width="1" height="1" fill="#000"/><text stroke="#000" stroke-width="0.3" transform="translate(165.4,396.5) rotate(-90)" style="font-size:7.8px">03:05</text><rect x="177" y="367" width="1" height="1" fill="#000"/><text stroke="#000" stroke-width="0.3" transform="translate(180.4,396.5) rotate(-90)" style="font-size:7.8px">03:35</text><rect x="193" y="367" width="1" height="1" fill="#000"/><text stroke="#000" stroke-width="0.3" transform="translate(196.4,396.5) rotate(-90)" style="font-size:7.8px">04:05</text><rect x="208" y="367" width="1" height="1" fill="#000"/><text stroke="#000" stroke-width="0.3" transform="translate(211.4,396.5) rotate(-90)" style="font-size:7.8px">04:35</text><rect x="224" y="367" width="1" height="1" fill="#000"/><text stroke="#000" stroke-width="0.3" transform="translate(227.4,396.5) rotate(-90)" style="font-size:7.8px">05:05</text><rect x="239" y="367" width="1" height="1" fill="#000"/><text stroke="#000" stroke-width="0.3" transform="translate(242.4,396.5) rotate(-90)" style="font-size:7.8px">05:35</text><rect x="255" y="367" width="1" height="1" fill="#000"/><text stroke="#000" stroke-width="0.3" transform="translate(258.4,396.5) rotate(-90)" style="font-size:7.8px">06:05</text><rect x="270" y="367" width="1" height="1" fill="#000"/><text stroke="#000" stroke-width="0.3" transform="translate(273.4,396.5) rotate(-90)" style="font-size:7.8px">06:35</text><rect x="285" y="367" width="1" height="1" fill="#000"/><text stroke="#000" stroke-width="0.3" transform="translate(288.4,396.5) rotate(-90)" style="font-size:7.8px">07:05</text><rect x="301" y="367" width="1" height="1" fill="#000"/><text stroke="#000" stroke-width="0.3" transform="translate(304.4,396.5) rotate(-90)" style="font-size:7.8px">07:35</text><rect x="316" y="367" width="1" height="1" fill="#000"/><text stroke="#000" stroke-width="0.3" transform="translate(319.4,396.5) rotate(-90)" style="font-size:7.8px">08:05</text><rect x="332" y="367" width="1" height="1" fill="#000"/><text stroke="#000" stroke-width="0.3" transform="translate(335.4,396.5) rotate(-90)" style="font-size:7.8px">08:35</text><rect x="347" y="367" width="1" height="1" fill="#000"/><text stroke="#000" stroke-width="0.3" transform="translate(350.4,396.5) rotate(-90)" style="font-size:7.8px">09:05</text><rect x="362" y="367" width="1" height="1" fill="#000"/><text stroke="#000" stroke-width="0.3" transform="translate(365.4,396.5) rotate(-90)" style="font-size:7.8px">09:35</text><rect x="378" y="367" width="1" height="1" fill="#000"/><text stroke="#000" stroke-width="0.3" transform="translate(381.4,396.5) rotate(-90)" style="font-size:7.8px">10:05</text><rect x="393" y="367" width="1" height="1" fill="#000"/><text stroke="#000" stroke-width="0.3" transform="translate(396.4,396.5) rotate(-90)" style="font-size:7.8px">10:35</text><rect x="409" y="367" width="1" height="1" fill="#000"/><text stroke="#000" stroke-width="0.3" transform="translate(412.4,396.5) rotate(-90)" style="font-size:7.8px">11:05</text><rect x="424" y="367" width="1" height="1" fill="#000"/><text stroke="#000" stroke-width="0.3" transform="translate(427.4,396.5) rotate(-90)" style="font-size:7.8px">11:35</text><rect x="440" y="367" width="1" height="1" fill="#000"/><text stroke="#000" stroke-width="0.3" transform="translate(443.4,396.5) rotate(-90)" style="font-size:7.8px">12:05</text><rect x="455" y="367" width="1" height="1" fill="#000"/><text stroke="#000" stroke-width="0.3" transform="translate(458.4,396.5) rotate(-90)" style="font-size:7.8px">12:35</text><rect x="470" y="367" width="1" height="1" fill="#000"/><text stroke="#000" stroke-width="0.3" transform="translate(473.4,396.5) rotate(-90)" style="font-size:7.8px">13:05</text><rect x="486" y="367" width="1" height="1" fill="#000"/><text stroke="#000" stroke-width="0.3" transform="translate(489.4,396.5) rotate(-90)" style="font-size:7.8px">13:35</text><rect x="501" y="367" width="1" height="1" fill="#000"/><text stroke="#000" stroke-width="0.3" transform="translate(504.4,396.5) rotate(-90)" style="font-size:7.8px">14:05</text><rect x="517" y="367" width="1" height="1" fill="#000"/><text stroke="#000" stroke-width="0.3" transform="translate(520.4,396.5) rotate(-90)" style="font-size:7.8px">14:35</text><rect x="532" y="367" width="1" height="1" fill="#000"/><text stroke="#000" stroke-width="0.3" transform="translate(535.4,396.5) rotate(-90)" style="font-size:7.8px">15:05</text><rect x="548" y="367" width="1" height="1" fill="#000"/><text stroke="#000" stroke-width="0.3" transform="translate(551.4,396.5) rotate(-90)" style="font-size:7.8px">15:35</text><rect x="563" y="367" width="1" height="1" fill="#000"/><text stroke="#000" stroke-width="0.3" transform="translate(566.4,396.5) rotate(-90)" style="font-size:7.8px">16:05</text><rect x="578" y="367" width="1" height="1" fill="#000"/><text stroke="#000" stroke-width="0.3" transform="translate(581.4,396.5) rotate(-90)" style="font-size:7.8px">16:35</text><rect x="594" y="367" width="1" height="1" fill="#000"/><text stroke="#000" stroke-width="0.3" transform="translate(597.4,396.5) rotate(-90)" style="font-size:7.8px">17:05</text><rect x="609" y="367" width="1" height="1" fill="#000"/><text stroke="#000" stroke-width="0.3" transform="translate(612.4,396.5) rotate(-90)" style="font-size:7.8px">17:35</text><rect x="625" y="367" width="1" height="1" fill="#000"/><text stroke="#000" stroke-width="0.3" transform="translate(628.4,396.5) rotate(-90)" style="font-size:7.8px">18:05</text><rect x="640" y="367" width="1" height="1" fill="#000"/><text stroke="#000" stroke-width="0.3" transform="translate(643.4,396.5) rotate(-90)" style="font-size:7.8px">18:35</text><rect x="655" y="367" width="1" height="1" fill="#000"/><text stroke="#000" stroke-width="0.3" transform="translate(658.4,396.5) rotate(-90)" style="font-size:7.8px">19:05</text><rect x="671" y="367" width="1" height="1" fill="#000"/><text stroke="#000" stroke-width="0.3" transform="translate(674.4,396.5) rotate(-90)" style="font-size:7.8px">19:35</text><rect x="686" y="367" width="1" height="1" fill="#000"/><text stroke="#000" stroke-width="0.3" transform="translate(689.4,396.5) rotate(-90)" style="font-size:7.8px">20:05</text><rect x="702" y="367" width="1" height="1" fill="#000"/><text stroke="#000" stroke-width="0.3" transform="translate(705.4,396.5) rotate(-90)" style="font-size:7.8px">20:35</text><rect x="717" y="367" width="1" height="1" fill="#000"/><text stroke="#000" stroke-width="0.3" transform="translate(720.4,396.5) rotate(-90)" style="font-size:7.8px">21:05</text><rect x="733" y="367" width="1" height="1" fill="#000"/><text stroke="#000" stroke-width="0.3" transform="translate(736.4,396.5) rotate(-90)" style="font-size:7.8px">21:35</text><rect x="748" y="367" width="1" height="1" fill="#000"/><text stroke="#000" stroke-width="0.3" transform="translate(751.4,396.5) rotate(-90)" style="font-size:7.8px">22:05</text><rect x="763" y="367" width="1" height="1" fill="#000"/><text stroke="#000" stroke-width="0.3" transform="translate(766.4,396.5) rotate(-90)" style="font-size:7.8px">22:35</text><rect x="779" y="367" width="1" height="1" fill="#000"/><text stroke="#000" stroke-width="0.3" transform="translate(782.4,396.5) rotate(-90)" style="font-size:7.8px">23:05</text><rect x="794" y="367" width="1" height="1" fill="#000"/><text stroke="#000" stroke-width="0.3" transform="translate(797.4,396.5) rotate(-90)" style="font-size:7.8px">23:35</text>
<rect x="28" y="40" width="1" height="326" fill="#228b22"/>
<rect x="50" y="40" width="1" height="326" fill="#9400d3"/>
<rect x="70" y="40" width="1" height="326" fill="#ff0000"/>
<rect x="26" y="55" width="4" height="1" fill="#228b22"/>
<text x="22.8" y="58.0" fill="#228b22" stroke="#228b22" stroke-width="0.25" text-anchor="end">1026</text>
<rect x="26" y="71" width="4" height="1" fill="#228b22"/>
<text x="22.8" y="74.0" fill="#228b22" stroke="#228b22" stroke-width="0.25" text-anchor="end">1025</text>
<rect x="26" y="87" width="4" height="1" fill="#228b22"/>
<text x="22.8" y="90.0" fill="#228b22" stroke="#228b22" stroke-width="0.25" text-anchor="end">1024</text>
<rect x="26" y="103" width="4" height="1" fill="#228b22"/>
<text x="22.8" y="106.0" fill="#228b22" stroke="#228b22" stroke-width="0.25" text-anchor="end">1023</text>
<rect x="26" y="120" width="4" height="1" fill="#228b22"/>
<text x="22.8" y="123.0" fill="#228b22" stroke="#228b22" stroke-width="0.25" text-anchor="end">1022</text>
<rect x="26" y="136" width="4" height="1" fill="#228b22"/>
<text x="22.8" y="139.0" fill="#228b22" stroke="#228b22" stroke-width="0.25" text-anchor="end">1021</text>
<rect x="26" y="152" width="4" height="1" fill="#228b22"/>
<text x="22.8" y="155.0" fill="#228b22" stroke="#228b22" stroke-width="0.25" text-anchor="end">1020</text>
<rect x="26" y="169" width="4" height="1" fill="#228b22"/>
<text x="22.8" y="172.0" fill="#228b22" stroke="#228b22" stroke-width="0.25" text-anchor="end">1019</text>
<rect x="26" y="185" width="4" height="1" fill="#228b22"/>
<text x="22.8" y="188.0" fill="#228b22" stroke="#228b22" stroke-width="0.25" text-anchor="end">1018</text>
<rect x="26" y="201" width="4" height="1" fill="#228b22"/>
<text x="22.8" y="204.0" fill="#228b22" stroke="#228b22" stroke-width="0.25" text-anchor="end">1017</text>
<rect x="26" y="218" width="4" height="1" fill="#228b22"/>
<text x="22.8" y="221.0" fill="#228b22" stroke="#228b22" stroke-width="0.25" text-anchor="end">1016</text>
<rect x="26" y="234" width="4" height="1" fill="#228b22"/>
<text x="22.8" y="237.0" fill="#228b22" stroke="#228b22" stroke-width="0.25" text-anchor="end">1015</text>
<rect x="26" y="250" width="4" height="1" fill="#228b22"/>
<text x="22.8" y="253.0" fill="#228b22" stroke="#228b22" stroke-width="0.25" text-anchor="end">1014</text>
<rect x="26" y="267" width="4" height="1" fill="#228b22"/>
<text x="22.8" y="270.0" fill="#228b22" stroke="#228b22" stroke-width="0.25" text-anchor="end">1013</text>
<rect x="26" y="283" width="4" height="1" fill="#228b22"/>
<text x="22.8" y="286.0" fill="#228b22" stroke="#228b22" stroke-width="0.25" text-anchor="end">1012</text>
<rect x="26" y="299" width="4" height="1" fill="#228b22"/>
<text x="22.8" y="302.0" fill="#228b22" stroke="#228b22" stroke-width="0.25" text-anchor="end">1011</text>
<rect x="26" y="316" width="4" height="1" fill="#228b22"/>
<text x="22.8" y="319.0" fill="#228b22" stroke="#228b22" stroke-width="0.25" text-anchor="end">1010</text>
<rect x="26" y="332" width="4" height="1" fill="#228b22"/>
<text x="22.8" y="335.0" fill="#228b22" stroke="#228b22" stroke-width="0.25" text-anchor="end">1009</text>
<rect x="26" y="348" width="4" height="1" fill="#228b22"/>
<text x="22.8" y="351.0" fill="#228b22" stroke="#228b22" stroke-width="0.25" text-anchor="end">1008</text>
<rect x="26" y="365" width="4" height="1" fill="#228b22"/>
<text x="22.8" y="368.0" fill="#228b22" stroke="#228b22" stroke-width="0.25" text-anchor="end">1007</text>
<rect x="48" y="55" width="4" height="1" fill="#9400d3"/>
<text x="45.0" y="58.0" fill="#9400d3" stroke="#9400d3" stroke-width="0.25" text-anchor="end">100</text>
<rect x="48" y="86" width="4" height="1" fill="#9400d3"/>
<text x="45.0" y="89.0" fill="#9400d3" stroke="#9400d3" stroke-width="0.25" text-anchor="end">90</text>
<rect x="48" y="117" width="4" height="1" fill="#9400d3"/>
<text x="45.0" y="120.0" fill="#9400d3" stroke="#9400d3" stroke-width="0.25" text-anchor="end">80</text>
<rect x="48" y="148" width="4" height="1" fill="#9400d3"/>
<text x="45.0" y="151.0" fill="#9400d3" stroke="#9400d3" stroke-width="0.25" text-anchor="end">70</text>
<rect x="48" y="179" width="4" height="1" fill="#9400d3"/>
<text x="45.0" y="182.0" fill="#9400d3" stroke="#9400d3" stroke-width="0.25" text-anchor="end">60</text>
<rect x="48" y="210" width="4" height="1" fill="#9400d3"/>
<text x="45.0" y="213.0" fill="#9400d3" stroke="#9400d3" stroke-width="0.25" text-anchor="end">50</text>
<rect x="48" y="241" width="4" height="1" fill="#9400d3"/>
<text x="45.0" y="244.0" fill="#9400d3" stroke="#9400d3" stroke-width="0.25" text-anchor="end">40</text>
<rect x="48" y="272" width="4" height="1" fill="#9400d3"/>
<text x="45.0" y="275.0" fill="#9400d3" stroke="#9400d3" stroke-width="0.25" text-anchor="end">30</text>
<rect x="48" y="303" width="4" height="1" fill="#9400d3"/>
<text x="45.0" y="306.0" fill="#9400d3" stroke="#9400d3" stroke-width="0.25" text-anchor="end">20</text>
<rect x="48" y="334" width="4" height="1" fill="#9400d3"/>
<text x="45.0" y="337.0" fill="#9400d3" stroke="#9400d3" stroke-width="0.25" text-anchor="end">10</text>
<rect x="48" y="365" width="4" height="1" fill="#9400d3"/>
<text x="45.0" y="368.0" fill="#9400d3" stroke="#9400d3" stroke-width="0.25" text-anchor="end">0</text>
<rect x="68" y="365" width="4" height="1" fill="#ff0000"/>
<text x="66.8" y="368.0" fill="#ff0000" stroke="#ff0000" stroke-width="0.25" text-anchor="end">4</text>
<rect x="68" y="340" width="4" height="1" fill="#ff0000"/>
<text x="66.8" y="343.0" fill="#ff0000" stroke="#ff0000" stroke-width="0.25" text-anchor="end">6</text>
<rect x="68" y="315" width="4" height="1" fill="#ff0000"/>
<text x="66.8" y="318.0" fill="#ff0000" stroke="#ff0000" stroke-width="0.25" text-anchor="end">8</text>
<rect x="68" y="290" width="4" height="1" fill="#ff0000"/>
<text x="66.8" y="293.0" fill="#ff0000" stroke="#ff0000" stroke-width="0.25" text-anchor="end">10</text>
<rect x="68" y="265" width="4" height="1" fill="#ff0000"/>
<text x="66.8" y="268.0" fill="#ff0000" stroke="#ff0000" stroke-width="0.25" text-anchor="end">12</text>
<rect x="68" y="241" width="4" height="1" fill="#ff0000"/>
<text x="66.8" y="244.0" fill="#ff0000" stroke="#ff0000" stroke-width="0.25" text-anchor="end">14</text>
<rect x="68" y="216" width="4" height="1" fill="#ff0000"/>
<text x="66.8" y="219.0" fill="#ff0000" stroke="#ff0000" stroke-width="0.25" text-anchor="end">16</text>
<rect x="68" y="191" width="4" height="1" fill="#ff0000"/>
<text x="66.8" y="194.0" fill="#ff0000" stroke="#ff0000" stroke-width="0.25" text-anchor="end">18</text>
<rect x="68" y="166" width="4" height="1" fill="#ff0000"/>
<text x="66.8" y="169.0" fill="#ff0000" stroke="#ff0000" stroke-width="0.25" text-anchor="end">20</text>
<rect x="68" y="141" width="4" height="1" fill="#ff0000"/>
<text x="66.8" y="144.0" fill="#ff0000" stroke="#ff0000" stroke-width="0.25" text-anchor="end">22</text>
<rect x="68" y="117" width="4" height="1" fill="#ff0000"/>
<text x="66.8" y="120.0" fill="#ff0000" stroke="#ff0000" stroke-width="0.25" text-anchor="end">24</text>
<rect x="68" y="92" width="4" height="1" fill="#ff0000"/>
<text x="66.8" y="95.0" fill="#ff0000" stroke="#ff0000" stroke-width="0.25" text-anchor="end">26</text>
<rect x="68" y="67" width="4" height="1" fill="#ff0000"/>
<text x="66.8" y="70.0" fill="#ff0000" stroke="#ff0000" stroke-width="0.25" text-anchor="end">28</text>
<text x="5.3" y="47.2" fill="#228b22" stroke="#228b22" stroke-width="0.25" text-anchor="start">hPa</text>
<text x="40.0" y="47.2" fill="#9400d3" stroke="#9400d3" stroke-width="0.25" text-anchor="start">%</text>
<text x="57.5" y="47.2" fill="#ff0000" stroke="#ff0000" stroke-width="0.25" text-anchor="start">°C</text>
<rect x="805" y="40" width="1" height="326" fill="#666666"/>
<rect x="825" y="40" width="1" height="326" fill="#000"/>
<rect x="845" y="40" width="1" height="326" fill="#00bfff"/>
<rect x="860" y="40" width="1" height="326" fill="#ffff00"/>
<rect x="875" y="40" width="1" height="326" fill="#ff8000"/>
<rect x="805" y="55" width="2" height="1" fill="#666666"/>
<text x="808.0" y="58.0" fill="#666666" stroke="#666666" stroke-width="0.25" text-anchor="start">360</text>
<text x="812.5" y="66.3" fill="#666666" stroke="#666666" stroke-width="0.25" text-anchor="start">N</text>
<rect x="805" y="93" width="2" height="1" fill="#666666"/>
<text x="808.0" y="96.0" fill="#666666" stroke="#666666" stroke-width="0.25" text-anchor="start">315</text>
<text x="808.0" y="104.3" fill="#666666" stroke="#666666" stroke-width="0.25" text-anchor="start">NW</text>
<rect x="805" y="132" width="2" height="1" fill="#666666"/>
<text x="808.0" y="135.0" fill="#666666" stroke="#666666" stroke-width="0.25" text-anchor="start">270</text>
<text x="812.5" y="143.3" fill="#666666" stroke="#666666" stroke-width="0.25" text-anchor="start">W</text>
<rect x="805" y="171" width="2" height="1" fill="#666666"/>
<text x="808.0" y="174.0" fill="#666666" stroke="#666666" stroke-width="0.25" text-anchor="start">225</text>
<text x="808.0" y="182.3" fill="#666666" stroke="#666666" stroke-width="0.25" text-anchor="start">SW</text>
<rect x="805" y="210" width="2" height="1" fill="#666666"/>
<text x="808.0" y="213.0" fill="#666666" stroke="#666666" stroke-width="0.25" text-anchor="start">180</text>
<text x="812.5" y="221.3" fill="#666666" stroke="#666666" stroke-width="0.25" text-anchor="start">S</text>
<rect x="805" y="248" width="2" height="1" fill="#666666"/>
<text x="808.0" y="251.0" fill="#666666" stroke="#666666" stroke-width="0.25" text-anchor="start">135</text>
<text x="808.0" y="259.3" fill="#666666" stroke="#666666" stroke-width="0.25" text-anchor="start">SE</text>
<rect x="805" y="287" width="2" height="1" fill="#666666"/>
<text x="808.0" y="290.0" fill="#666666" stroke="#666666" stroke-width="0.25" text-anchor="start">90</text>
<text x="812.5" y="298.3" fill="#666666" stroke="#666666" stroke-width="0.25" text-anchor="start">E</text>
<rect x="805" y="326" width="2" height="1" fill="#666666"/>
<text x="808.0" y="329.0" fill="#666666" stroke="#666666" stroke-width="0.25" text-anchor="start">45</text>
<text x="808.0" y="337.3" fill="#666666" stroke="#666666" stroke-width="0.25" text-anchor="start">NE</text>
<text x="808.0" y="46.2" fill="#666666" stroke="#666666" stroke-width="0.25" text-anchor="start">°</text>
<rect x="823" y="55" width="4" height="1" fill="#000"/>
<text x="828.6" y="58.0" fill="#000" stroke="#000" stroke-width="0.25" text-anchor="start" class="b">15</text>
<rect x="823" y="75" width="4" height="1" fill="#000"/>
<text x="828.6" y="78.0" fill="#000" stroke="#000" stroke-width="0.25" text-anchor="start" class="b">14</text>
<rect x="823" y="96" width="4" height="1" fill="#000"/>
<text x="828.6" y="99.0" fill="#000" stroke="#000" stroke-width="0.25" text-anchor="start" class="b">13</text>
<rect x="823" y="117" width="4" height="1" fill="#000"/>
<text x="828.6" y="120.0" fill="#000" stroke="#000" stroke-width="0.25" text-anchor="start" class="b">12</text>
<rect x="823" y="137" width="4" height="1" fill="#000"/>
<text x="828.6" y="140.0" fill="#000" stroke="#000" stroke-width="0.25" text-anchor="start" class="b">11</text>
<rect x="823" y="158" width="4" height="1" fill="#000"/>
<text x="828.6" y="161.0" fill="#000" stroke="#000" stroke-width="0.25" text-anchor="start" class="b">10</text>
<rect x="823" y="179" width="4" height="1" fill="#000"/>
<text x="828.6" y="182.0" fill="#000" stroke="#000" stroke-width="0.25" text-anchor="start" class="b">9</text>
<rect x="823" y="199" width="4" height="1" fill="#000"/>
<text x="828.6" y="202.0" fill="#000" stroke="#000" stroke-width="0.25" text-anchor="start" class="b">8</text>
<rect x="823" y="220" width="4" height="1" fill="#000"/>
<text x="828.6" y="223.0" fill="#000" stroke="#000" stroke-width="0.25" text-anchor="start" class="b">7</text>
<rect x="823" y="241" width="4" height="1" fill="#000"/>
<text x="828.6" y="244.0" fill="#000" stroke="#000" stroke-width="0.25" text-anchor="start" class="b">6</text>
<rect x="823" y="261" width="4" height="1" fill="#000"/>
<text x="828.6" y="264.0" fill="#000" stroke="#000" stroke-width="0.25" text-anchor="start" class="b">5</text>
<rect x="823" y="282" width="4" height="1" fill="#000"/>
<text x="828.6" y="285.0" fill="#000" stroke="#000" stroke-width="0.25" text-anchor="start" class="b">4</text>
<rect x="823" y="303" width="4" height="1" fill="#000"/>
<text x="828.6" y="306.0" fill="#000" stroke="#000" stroke-width="0.25" text-anchor="start" class="b">3</text>
<rect x="823" y="323" width="4" height="1" fill="#000"/>
<text x="828.6" y="326.0" fill="#000" stroke="#000" stroke-width="0.25" text-anchor="start" class="b">2</text>
<rect x="823" y="344" width="4" height="1" fill="#000"/>
<text x="828.6" y="347.0" fill="#000" stroke="#000" stroke-width="0.25" text-anchor="start" class="b">1</text>
<rect x="823" y="365" width="4" height="1" fill="#000"/>
<text x="828.6" y="368.0" fill="#000" stroke="#000" stroke-width="0.25" text-anchor="start" class="b">0</text>
<text x="828.0" y="47.2" fill="#000" stroke="#000" stroke-width="0.25" text-anchor="start">m/s</text>
<rect x="843" y="55" width="4" height="1" fill="#00bfff"/>
<text x="848.3" y="58.0" fill="#00bfff" stroke="#00bfff" stroke-width="0.25" text-anchor="start">10</text>
<rect x="843" y="86" width="4" height="1" fill="#00bfff"/>
<text x="848.3" y="89.0" fill="#00bfff" stroke="#00bfff" stroke-width="0.25" text-anchor="start">9</text>
<rect x="843" y="117" width="4" height="1" fill="#00bfff"/>
<text x="848.3" y="120.0" fill="#00bfff" stroke="#00bfff" stroke-width="0.25" text-anchor="start">8</text>
<rect x="843" y="148" width="4" height="1" fill="#00bfff"/>
<text x="848.3" y="151.0" fill="#00bfff" stroke="#00bfff" stroke-width="0.25" text-anchor="start">7</text>
<rect x="843" y="179" width="4" height="1" fill="#00bfff"/>
<text x="848.3" y="182.0" fill="#00bfff" stroke="#00bfff" stroke-width="0.25" text-anchor="start">6</text>
<rect x="843" y="210" width="4" height="1" fill="#00bfff"/>
<text x="848.3" y="213.0" fill="#00bfff" stroke="#00bfff" stroke-width="0.25" text-anchor="start">5</text>
<rect x="843" y="241" width="4" height="1" fill="#00bfff"/>
<text x="848.3" y="244.0" fill="#00bfff" stroke="#00bfff" stroke-width="0.25" text-anchor="start">4</text>
<rect x="843" y="272" width="4" height="1" fill="#00bfff"/>
<text x="848.3" y="275.0" fill="#00bfff" stroke="#00bfff" stroke-width="0.25" text-anchor="start">3</text>
<rect x="843" y="303" width="4" height="1" fill="#00bfff"/>
<text x="848.3" y="306.0" fill="#00bfff" stroke="#00bfff" stroke-width="0.25" text-anchor="start">2</text>
<rect x="843" y="334" width="4" height="1" fill="#00bfff"/>
<text x="848.3" y="337.0" fill="#00bfff" stroke="#00bfff" stroke-width="0.25" text-anchor="start">1</text>
<rect x="843" y="365" width="4" height="1" fill="#00bfff"/>
<text x="848.3" y="368.0" fill="#00bfff" stroke="#00bfff" stroke-width="0.25" text-anchor="start">0</text>
<text x="848.0" y="47.2" fill="#00bfff" stroke="#00bfff" stroke-width="0.25" text-anchor="start">mm</text>
<rect x="858" y="55" width="4" height="1" fill="#ffff00"/>
<text x="862.6" y="58.0" fill="#ffff00" stroke="#ffff00" stroke-width="0.25" text-anchor="start">5</text>
<rect x="858" y="117" width="4" height="1" fill="#ffff00"/>
<text x="862.6" y="120.0" fill="#ffff00" stroke="#ffff00" stroke-width="0.25" text-anchor="start">4</text>
<rect x="858" y="179" width="4" height="1" fill="#ffff00"/>
<text x="862.6" y="182.0" fill="#ffff00" stroke="#ffff00" stroke-width="0.25" text-anchor="start">3</text>
<rect x="858" y="241" width="4" height="1" fill="#ffff00"/>
<text x="862.6" y="244.0" fill="#ffff00" stroke="#ffff00" stroke-width="0.25" text-anchor="start">2</text>
<rect x="858" y="303" width="4" height="1" fill="#ffff00"/>
<text x="862.6" y="306.0" fill="#ffff00" stroke="#ffff00" stroke-width="0.25" text-anchor="start">1</text>
<rect x="858" y="365" width="4" height="1" fill="#ffff00"/>
<text x="862.6" y="368.0" fill="#ffff00" stroke="#ffff00" stroke-width="0.25" text-anchor="start">0</text>
<rect x="873" y="210" width="4" height="1" fill="#ff8000"/>
<text x="878.6" y="213.0" fill="#ff8000" stroke="#ff8000" stroke-width="0.25" text-anchor="start">1500</text>
<rect x="873" y="225" width="4" height="1" fill="#ff8000"/>
<text x="878.6" y="228.0" fill="#ff8000" stroke="#ff8000" stroke-width="0.25" text-anchor="start">1350</text>
<rect x="873" y="241" width="4" height="1" fill="#ff8000"/>
<text x="878.6" y="244.0" fill="#ff8000" stroke="#ff8000" stroke-width="0.25" text-anchor="start">1200</text>
<rect x="873" y="256" width="4" height="1" fill="#ff8000"/>
<text x="878.6" y="259.0" fill="#ff8000" stroke="#ff8000" stroke-width="0.25" text-anchor="start">1050</text>
<rect x="873" y="272" width="4" height="1" fill="#ff8000"/>
<text x="878.6" y="275.0" fill="#ff8000" stroke="#ff8000" stroke-width="0.25" text-anchor="start">900</text>
<rect x="873" y="287" width="4" height="1" fill="#ff8000"/>
<text x="878.6" y="290.0" fill="#ff8000" stroke="#ff8000" stroke-width="0.25" text-anchor="start">750</text>
<rect x="873" y="303" width="4" height="1" fill="#ff8000"/>
<text x="878.6" y="306.0" fill="#ff8000" stroke="#ff8000" stroke-width="0.25" text-anchor="start">600</text>
<rect x="873" y="318" width="4" height="1" fill="#ff8000"/>
<text x="878.6" y="321.0" fill="#ff8000" stroke="#ff8000" stroke-width="0.25" text-anchor="start">450</text>
<rect x="873" y="334" width="4" height="1" fill="#ff8000"/>
<text x="878.6" y="337.0" fill="#ff8000" stroke="#ff8000" stroke-width="0.25" text-anchor="start">300</text>
<rect x="873" y="349" width="4" height="1" fill="#ff8000"/>
<text x="878.6" y="352.0" fill="#ff8000" stroke="#ff8000" stroke-width="0.25" text-anchor="start">150</text>
<rect x="873" y="365" width="4" height="1" fill="#ff8000"/>
<text x="878.6" y="368.0" fill="#ff8000" stroke="#ff8000" stroke-width="0.25" text-anchor="start">0</text>
<text x="878.0" y="47.2" fill="#ff8000" stroke="#ff8000" stroke-width="0.25" text-anchor="start" class="b">W</text>
<text x="815.0" y="377.5" fill="#000" stroke="#000" stroke-width="0.25" text-anchor="start" font-style="italic">čas</text>
<rect x="10" y="9" width="11" height="2" fill="#ff0000"/>
<text x="25.0" y="12.3" fill="#000" stroke="#000" stroke-width="0.25" text-anchor="start" style="font-size:8.35px">Teplota</text>
<rect x="70" y="9" width="11" height="2" fill="#ff00ff"/>
<text x="85.0" y="12.3" fill="#000" stroke="#000" stroke-width="0.25" text-anchor="start" style="font-size:8.35px">Přízemní teplota</text>
<rect x="175" y="9" width="11" height="2" fill="#9400d3"/>
<text x="190.0" y="12.3" fill="#000" stroke="#000" stroke-width="0.25" text-anchor="start" style="font-size:8.35px">Vlhkost</text>
<rect x="235" y="9" width="11" height="2" fill="#228b22"/>
<text x="250.0" y="12.3" fill="#000" stroke="#000" stroke-width="0.25" text-anchor="start" style="font-size:8.35px">Tlak</text>
<rect x="280" y="9" width="11" height="2" fill="#00bfff"/>
<text x="295.0" y="12.3" fill="#000" stroke="#000" stroke-width="0.25" text-anchor="start" style="font-size:8.35px">Srážky</text>
<rect x="335" y="9" width="11" height="2" fill="#000"/>
<text x="350.0" y="12.3" fill="#000" stroke="#000" stroke-width="0.25" text-anchor="start" style="font-size:8.35px">Rychlost větru</text>
<rect x="430" y="9" width="11" height="2" fill="#0000cd"/>
<text x="445.0" y="12.3" fill="#000" stroke="#000" stroke-width="0.25" text-anchor="start" style="font-size:8.35px">Náraz větru</text>
<rect x="510" y="9" width="11" height="2" fill="#666666"/>
<text x="525.0" y="12.3" fill="#000" stroke="#000" stroke-width="0.25" text-anchor="start" style="font-size:8.35px">Směr větru</text>
<rect x="585" y="9" width="11" height="2" fill="#ffff00"/>
<text x="600.0" y="12.3" fill="#ffff00" stroke="#ffff00" stroke-width="0.25" text-anchor="start" style="font-size:8.35px">UV index</text>
<rect x="650" y="9" width="11" height="2" fill="#ff8000"/>
<text x="665.0" y="12.3" fill="#ff8000" stroke="#ff8000" stroke-width="0.25" text-anchor="start" style="font-size:8.35px">Solar</text>
<text x="80.0" y="27.3" fill="#000" stroke="#000" stroke-width="0.25" text-anchor="start">max</text>
<text x="100.0" y="27.3" fill="#ff0000" stroke="#ff0000" stroke-width="0.25" text-anchor="start">24.8°C</text>
<text x="140.0" y="27.3" fill="#ff0000" stroke="#ff0000" stroke-width="0.25" text-anchor="start">97%</text>
<text x="165.0" y="27.3" fill="#ff0000" stroke="#ff0000" stroke-width="0.25" text-anchor="start">1019.3hPa</text>
<text x="225.0" y="27.3" fill="#00bfff" stroke="#00bfff" stroke-width="0.25" text-anchor="start">4.6mm</text>
<text x="80.0" y="37.0" fill="#000" stroke="#000" stroke-width="0.25" text-anchor="start">min</text>
<text x="100.0" y="37.0" fill="#0000cd" stroke="#0000cd" stroke-width="0.25" text-anchor="start">14.4°C</text>
<text x="140.0" y="37.0" fill="#0000cd" stroke="#0000cd" stroke-width="0.25" text-anchor="start">39%</text>
<text x="165.0" y="37.0" fill="#0000cd" stroke="#0000cd" stroke-width="0.25" text-anchor="start">1014hPa</text>
<text x="80.0" y="47.2" fill="#000" stroke="#000" stroke-width="0.25" text-anchor="start">avg</text>
<text x="100.0" y="47.2" fill="#000" stroke="#000" stroke-width="0.25" text-anchor="start">19.3°C</text>
<text x="495.0" y="27.3" fill="#000" stroke="#000" stroke-width="0.25" text-anchor="start">WS:2.2m/s</text>
<text x="565.0" y="27.3" fill="#000" stroke="#000" stroke-width="0.25" text-anchor="start">WG:6.7m/s</text>
<text x="495.0" y="37.0" fill="#000" stroke="#000" stroke-width="0.25" text-anchor="start">Východ:04:55</text>
<text x="565.0" y="37.0" fill="#000" stroke="#000" stroke-width="0.25" text-anchor="start">Západ:21:01</text>
<text x="417.6" y="51" fill="#000" class="b" style="font-size:12.2px;letter-spacing:-0.38px">3.07.2016</text>
</g>
<path d="M0.5 0.5H899.5V399.5H0.5Z" fill="none" stroke="#000" stroke-width="1" shape-rendering="crispEdges"/>
</svg></body></html>
